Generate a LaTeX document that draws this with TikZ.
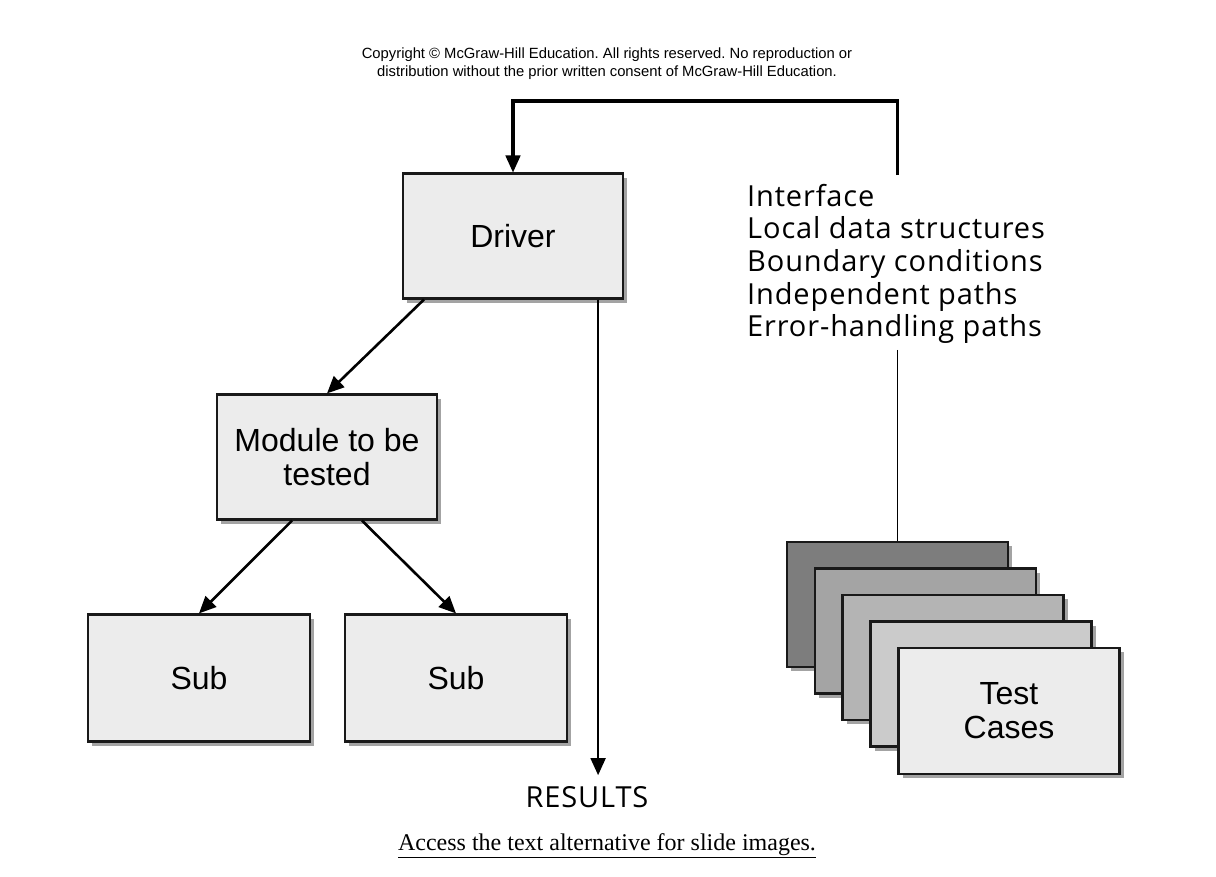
\documentclass[tikz,border=0pt]{standalone}
\usepackage{fontspec}
\setmainfont{Liberation Sans}
\newfontfamily\listfont{Open Sans}[LetterSpace=3]
\newfontfamily\accessfont{Liberation Serif}
\usetikzlibrary{arrows.meta,shadows}

\definecolor{boxfill}{HTML}{ECECEC}
\definecolor{cardA}{HTML}{7D7D7D}
\definecolor{cardB}{HTML}{A4A4A4}
\definecolor{cardC}{HTML}{B4B4B4}
\definecolor{cardD}{HTML}{CBCBCB}

\begin{document}
\begin{tikzpicture}[x=1pt, y=-1pt,
	box/.style={draw=black!90, line width=2.2pt, fill=boxfill, minimum width=220pt, minimum height=125pt,
		align=center, font=\fontsize{32}{34}\selectfont,
		drop shadow={shadow xshift=4pt, shadow yshift=-4pt, fill=black!60, opacity=0.6}},
	arr/.style={line width=2.6pt, -{Triangle[length=17pt,width=15pt]}},
	every node/.style={inner sep=0pt}]

	\useasboundingbox (0,0) rectangle (1216,876);

	% Copyright
	\node[align=center, font=\frenchspacing\fontsize{14.8}{18}\selectfont] (copy) at (607,64)
		{Copyright \textcopyright{} McGraw-Hill Education. All rights reserved. No reproduction or\\
		distribution without the prior written consent of McGraw-Hill Education.};

	% Boxes
	\node[box] (drv) at (513,236) {Driver};
	\node[box] (mod) at (327,457) {Module to be\\tested};
	\node[box, minimum width=222pt, minimum height=127pt] (sub1) at (199,678) {Sub};
	\node[box, minimum width=222pt, minimum height=127pt] (sub2) at (456,678) {Sub};

	% Test cases
	\node[box, fill=cardA, minimum width=221pt] (c1) at (897.5,604.5) {};
	\node[box, fill=cardB, minimum width=221pt] (c2) at (925.5,631) {};
	\node[box, fill=cardC, minimum width=221pt] (c3) at (953,657.5) {};
	\node[box, fill=cardD, minimum width=221pt] (c4) at (981,684) {};
	\node[box, minimum width=221pt, minimum height=126pt] (c5) at (1009,711) {Test\\Cases};

	% Description
	\node[anchor=north west, align=left, font=\listfont\fontsize{29}{32.6}\selectfont] (list) at (747,184)
		{Interface\\Local data structures\\Boundary conditions\\Independent paths\\Error-handling paths};
	\node[font=\listfont\fontsize{29}{30}\selectfont] (res) at (587,797) {RESULTS};
	\node[font=\accessfont\fontsize{24}{26}\selectfont] (acc) at (607,846)
		{\underline{Access the text alternative for slide images.}};

	% Connectors
	\coordinate (top) at (897,101);
	\coordinate (resTop) at ([yshift=11pt]res.north);
	\draw[line width=3.2pt] (c1.north |- list.north) ++(0,-9) |- (top) -| ([yshift=7pt]drv.north);
	\draw[arr, line width=1.8pt] (drv.north |- top) -- (drv.north);
	\draw[line width=1.4pt] (c1.north |- list.south) ++(0,6) -- (c1.north);
	\draw[arr] ([xshift=22pt]drv.south west) -- (mod.north);
	\draw[arr] ([xshift=-35pt]mod.south) -- (sub1.north);
	\draw[arr] ([xshift=35pt]mod.south) -- (sub2.north);
	\draw[arr, line width=1.8pt] ([xshift=-26pt]drv.south east) -- ([xshift=-26pt]drv.south east |- resTop);
\end{tikzpicture}
\end{document}
